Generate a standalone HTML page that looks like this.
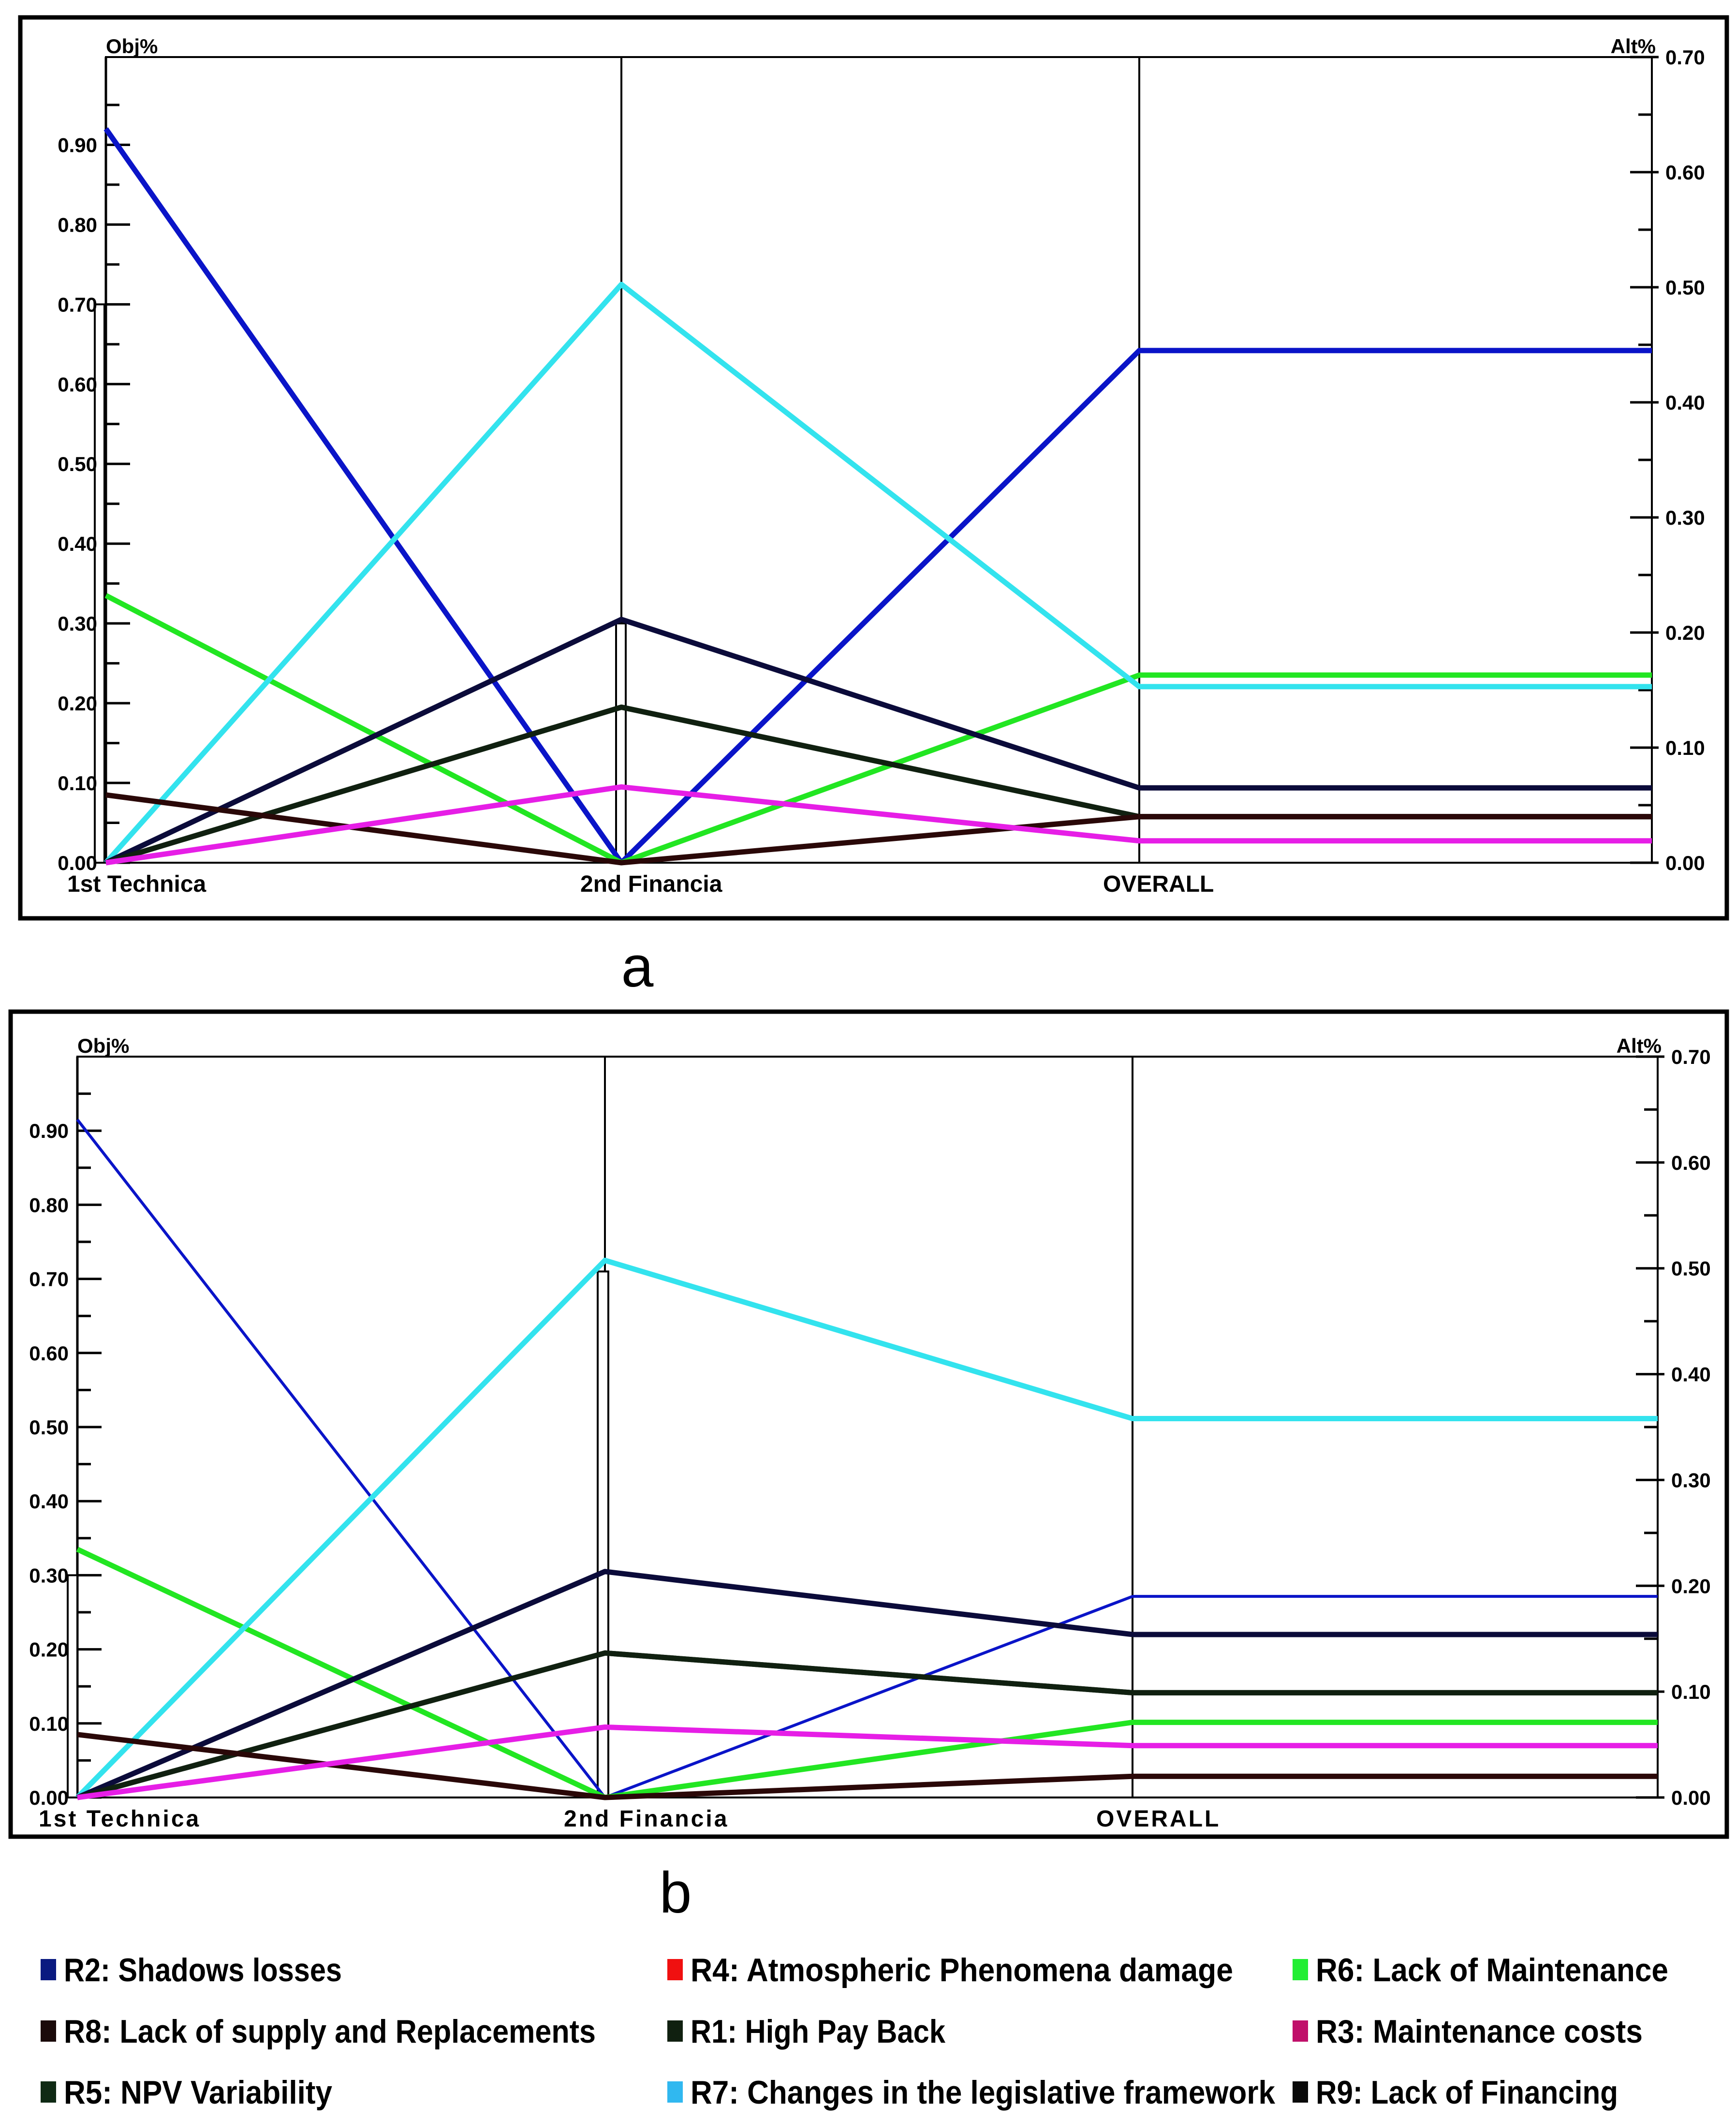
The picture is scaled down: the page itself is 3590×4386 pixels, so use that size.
<!DOCTYPE html>
<html><head><meta charset="utf-8"><style>
html,body{margin:0;padding:0;background:#fff;}
svg{display:block;font-family:"Liberation Sans",Arial,sans-serif;}
</style></head><body>
<svg id="root" width="3590" height="4386" viewBox="0 0 3590 4386" xmlns="http://www.w3.org/2000/svg">
<rect x="0" y="0" width="3590" height="4386" fill="#fff"/>
<g id="chartA"></g>
<g id="chartB"></g>
<text x="1318" y="2040" font-size="120" text-anchor="middle" fill="#000">a</text>
<text x="1397" y="3955" font-size="120" text-anchor="middle" fill="#000">b</text>
<g id="legend"></g>
</svg>
<script>
const categories = ["1st Technica", "2nd Financia", "OVERALL"];
const leftTicks = ["0.00","0.10","0.20","0.30","0.40","0.50","0.60","0.70","0.80","0.90"];
const rightTicks = ["0.00","0.10","0.20","0.30","0.40","0.50","0.60","0.70"];
const seriesNames = ["R2","R6","R7","R9","R5","R1","R8","R3"];
const seriesColors = ["#0a14c8","#22e622","#33e3ee","#0b0b3a","#0f2a0f","#102010","#2a0808","#e61ee6"];
// [axis1 (Obj), axis2 (Obj), overall (Alt)]
const chartA_R2 = [0.92, 0.00, 0.445];
const chartA_R6 = [0.335, 0.00, 0.163];
const chartA_R7 = [0.00, 0.725, 0.153];
const chartA_R9 = [0.00, 0.305, 0.065];
const chartA_R5 = [0.00, 0.195, 0.040];
const chartA_R1 = [0.00, 0.195, 0.040];
const chartA_R8 = [0.085, 0.00, 0.040];
const chartA_R3 = [0.00, 0.095, 0.019];
const chartB_R2 = [0.915, 0.00, 0.190];
const chartB_R6 = [0.335, 0.00, 0.071];
const chartB_R7 = [0.00, 0.725, 0.358];
const chartB_R9 = [0.00, 0.305, 0.154];
const chartB_R5 = [0.00, 0.195, 0.099];
const chartB_R1 = [0.00, 0.195, 0.099];
const chartB_R8 = [0.085, 0.00, 0.020];
const chartB_R3 = [0.00, 0.095, 0.049];
const legendLabels = ["R2: Shadows losses","R4: Atmospheric Phenomena damage","R6: Lack of Maintenance",
 "R8: Lack of supply and Replacements","R1: High Pay Back","R3: Maintenance costs",
 "R5: NPV Variability","R7: Changes in the legislative framework","R9: Lack of Financing"];
const legendColors = ["#0a1a80","#f01010","#22ee33","#1a0a0a","#102010","#c0106a","#0f2a14","#30b8f0","#0a0a0a"];
const legendWidths = [575,1122,729,1100,527,676,555,1209,625];

const NS="http://www.w3.org/2000/svg";
function mk(parent,tag,attrs){const e=document.createElementNS(NS,tag);for(const k in attrs)e.setAttribute(k,attrs[k]);parent.appendChild(e);return e;}

function drawChart(g, L, series, thin, rects){
  const yL=v=>L.y0-(v/L.lmax)*(L.y0-L.top);
  const yR=v=>L.y0-(v/0.70)*(L.y0-L.top);
  const xs=[L.x1,L.x2,L.x3];
  let e=mk(g,'rect',{x:L.fx,y:L.fy,width:L.fw,height:L.fh,fill:'none',stroke:'#000','stroke-width':9});
  
  
  e=mk(g,'rect',{x:L.x1,y:L.top,width:L.xr-L.x1,height:L.y0-L.top,fill:'none',stroke:'#000','stroke-width':4});
  
  
  xs.forEach((x,i)=>{
    e=mk(g,'line',{x1:x,y1:L.top,x2:x,y2:L.y0,stroke:'#000','stroke-width':i==0?5:4});
    
    
  });
  rects.forEach(r=>{
    e=mk(g,'rect',{x:r[0],y:yL(r[1]),width:r[2],height:L.y0-yL(r[1]),fill:'#fff',stroke:'#000','stroke-width':4});
    
    
  });
  for(let i=0;i<=19;i++){
    const v=i*0.05; if(v>1.0)break;
    const y=yL(v), major=i%2==0;
    e=mk(g,'line',{x1:L.x1,y1:y,x2:L.x1+(major?50:28),y2:y,stroke:'#000','stroke-width':5});
    
    
  }
  leftTicks.forEach((t,i)=>{
    e=mk(g,'text',{x:L.x1-18,y:yL(i*0.1)+15,'font-size':42,'font-weight':'bold','text-anchor':'end'});
    e.textContent=t;
    
    
  });
  for(let i=0;i<=14;i++){
    const y=yR(i*0.05), major=i%2==0;
    e=mk(g,'line',{x1:L.xr-(major?45:28),y1:y,x2:L.xr+(major?14:0),y2:y,stroke:'#000','stroke-width':5});
    
    
  }
  rightTicks.forEach((t,i)=>{
    e=mk(g,'text',{x:L.xr+28,y:yR(i*0.1)+15,'font-size':42,'font-weight':'bold'});
    e.textContent=t;
    
    
  });
  e=mk(g,'text',{x:L.x1,y:L.top-8,'font-size':42,'font-weight':'bold'});e.textContent='Obj%';
  
  
  e=mk(g,'text',{x:L.xr+8,y:L.top-8,'font-size':42,'font-weight':'bold','text-anchor':'end'});e.textContent='Alt%';
  
  
  const catX=[L.x1-80,L.x2-85,L.x3-75];
  categories.forEach((c,i)=>{
    e=mk(g,'text',{x:catX[i],y:L.y0+60,'font-size':48,'font-weight':'bold','letter-spacing':L.ls});
    e.textContent=c;
    
    
  });
  series.forEach((vals,si)=>{
    const pts=[[xs[0],yL(vals[0])],[xs[1],yL(vals[1])],[xs[2],yR(vals[2])],[L.xr,yR(vals[2])]];
    e=mk(g,'polyline',{points:pts.map(p=>p.join(',')).join(' '),fill:'none',stroke:seriesColors[si],'stroke-width':(thin&&si==0)?6:11,'stroke-linejoin':'round'});
    
    
  });
}
const LA={fx:42,fy:36,fw:3529,fh:1863,x1:219,x2:1285,x3:2356,xr:3416,top:118,y0:1784,lmax:1.01,ls:0};
const LB={fx:22,fy:2092,fw:3549,fh:1706,x1:160,x2:1251,x3:2342,xr:3428,top:2185,y0:3717,lmax:1.0,ls:4};
drawChart(document.getElementById('chartA'),LA,[chartA_R2,chartA_R6,chartA_R7,chartA_R9,chartA_R5,chartA_R1,chartA_R8,chartA_R3],false,[[196,0.70,20],[1274,0.30,20]]);
drawChart(document.getElementById('chartB'),LB,[chartB_R2,chartB_R6,chartB_R7,chartB_R9,chartB_R5,chartB_R1,chartB_R8,chartB_R3],true,[[140,0.30,20],[1236,0.71,22]]);

const lg=document.getElementById('legend');
const colX=[84,1380,2673], rowY=[4075,4202,4328];
legendLabels.forEach((t,i)=>{
  const c=i%3,r=Math.floor(i/3);
  let e=mk(lg,'rect',{x:colX[c],y:rowY[r]-24,width:32,height:44,fill:legendColors[i]});
  
  
  e=mk(lg,'text',{x:colX[c]+48,y:rowY[r]+22,'font-size':68,'font-weight':'bold',textLength:legendWidths[i],lengthAdjust:'spacingAndGlyphs'});
  e.textContent=t;
  
  
});
</script>
</body></html>
